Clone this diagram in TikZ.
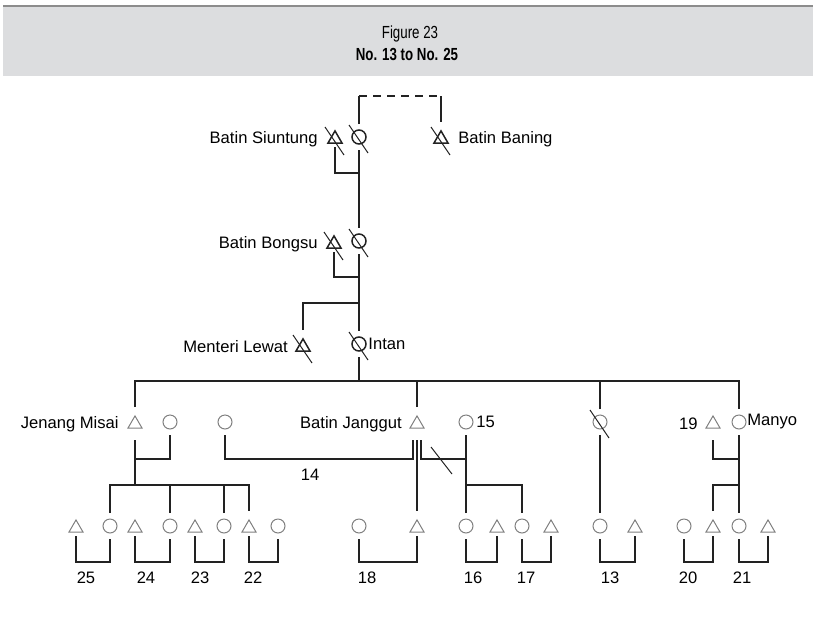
\documentclass[tikz,border=0pt]{standalone}
\usepackage{fontspec}
\setmainfont{Liberation Sans}
\usetikzlibrary{shapes.geometric,positioning}
\definecolor{Ink}{HTML}{222222}
\definecolor{Grey}{HTML}{808080}
\definecolor{Band}{HTML}{DCDDDF}
\definecolor{BandEdge}{HTML}{8C8C8C}
\tikzset{
  kinline/.style={Ink,line width=0.7pt},
  dashline/.style={kinline,dash pattern=on 4pt off 3pt},
  slashline/.style={Ink,line width=0.5pt},
  male/.style={regular polygon,regular polygon sides=3,minimum size=8.1pt,
    inner sep=0pt,outer sep=2.2pt,yshift=-1pt,draw=Grey,line width=0.5pt},
  female/.style={circle,minimum size=7pt,inner sep=0pt,outer sep=3pt,
    draw=Grey,line width=0.5pt},
  elder/.style={draw=Ink,line width=0.75pt},
  lbl/.style={inner sep=0pt,font=\fontsize{8.3}{10}\selectfont},
  heading/.style={inner sep=0pt,font=\fontsize{8.75}{10}\selectfont},
  lowgap/.style={shorten <=4pt},
}
\newcommand{\markdead}[1]{\draw[slashline] ([shift={(-10,-12)}]#1.center) -- ++(19,28);}

\begin{document}
\begin{tikzpicture}[x=0.5pt,y=-0.5pt]
\useasboundingbox (0,0) rectangle (813,616);
% Title band.
\fill[Band] (3,6) rectangle (813,76);
\draw[BandEdge,line width=0.6pt] (3,6) -- (813,6);
\node[heading] (fig) at (410,33.5) {\scalebox{0.76}[1]{Figure 23}};
\node[heading,font=\fontsize{8.75}{10}\selectfont\bfseries] (sub) at (407,54.5)
  {\scalebox{0.76}[1]{No. 13 to No. 25}};

% Two elder generations.
\node[male,elder] (siun) at (335,137) {};
\node[female,elder] (siunw) at (359,137) {};
\node[male,elder] (baning) at (441,137) {};
\node[lbl,left=3.6pt of siun] (lsiun) {Batin Siuntung};
\node[lbl,right=3.6pt of baning] (lbaning) {Batin Baning};
\node[male,elder] (bongsu) at (334,242) {};
\node[female,elder] (bongsuw) at (359,241) {};
\node[lbl,left=3.1pt of bongsu] (lbongsu) {Batin Bongsu};
\node[male,elder] (lewat) at (303,345) {};
\node[female,elder] (intan) at (359,344) {};
\node[lbl,left=2.6pt of lewat] (llewat) {Menteri Lewat};
\node[lbl,right=-2pt of intan] (lintan) {Intan};
\foreach \k in {siun,siunw,baning,bongsu,bongsuw,lewat,intan} {\markdead{\k}}

\coordinate (dl) at (siunw.north |- 0,96);
\coordinate (dr) at (baning.north |- 0,96);
\draw[kinline] (siunw.north) -- (dl);
\draw[dashline] (dl) -- (dr);
\draw[kinline] (dr) -- (baning.north);
\draw[kinline] (siun.south) |- (siunw.south |- 0,173);
\draw[kinline] (siunw.south) -- (bongsuw.north);
\draw[kinline] (bongsu.south) |- (bongsuw.south |- 0,277);
\draw[kinline] (bongsuw.south) -- (intan.north);
\draw[kinline] (lewat.north) |- (intan.north |- 0,303);
\draw[kinline] (intan.south) -- (intan.south |- 0,381);

% Children of Intan and their spouses.
\node[male] (jenang) at (135,422) {};
\node[female] (jenangw) at (170,422) {};
\node[female] (jwife1) at (225,422) {};
\node[male] (janggut) at (417,422) {};
\node[female] (jwife2) at (466,422) {};
\node[female] (dead13) at (600,422) {};
\node[male] (s19) at (713,422) {};
\node[female] (manyo) at (739,422) {};
\markdead{dead13}
\node[lbl,left=3.1pt of jenang] (ljenang) {Jenang Misai};
\node[lbl,left=2.6pt of janggut] (ljanggut) {Batin Janggut};
\node[lbl,right=-1.5pt of jwife2] (l15) {15};
\node[lbl,left=2.6pt of s19] (l19) {19};
\node[lbl,right=-2.5pt of manyo] (lmanyo) {Manyo};
\node[lbl] (n14) at (310,475) {14};

\draw[kinline] (jenang.north) -- (jenang.north |- 0,381) -- (manyo.north |- 0,381)
  -- (manyo.north);
\draw[kinline] (janggut.north) -- (janggut.north |- 0,381);
\draw[kinline] (dead13.north) -- (dead13.north |- 0,381);

% Bottom generation.
\foreach \n/\x/\s in {a1/76/male,a2/110/female,a3/135/male,a4/170/female,
    a5/195/male,a6/224/female,a7/249/male,a8/278/female,b1/359/female,
    b2/417/male,c1/466/female,c2/497/male,c3/522/female,c4/551/male,
    d1/600/female,d2/635/male,e1/684/female,e2/713/male,e3/739/female,
    e4/768/male}
  {\node[\s] (\n) at (\x,526) {};}

\coordinate (jgL) at ([xshift=-2pt]janggut.south);
\coordinate (jgR) at ([xshift=2pt]janggut.south);
\draw[kinline] (jenangw.south) |- (jenang.south |- 0,459);
\draw[kinline,lowgap] (jenang.south) -- (jenang.south |- 0,485);
\draw[kinline,lowgap] (jgL) -- (jgL |- 0,459) -| (jwife1.south);
\draw[kinline,lowgap] (janggut.south) -- (b2.north);
\draw[kinline,lowgap] (jgR) -- (jgR |- 0,459) -- (jwife2.south |- 0,459);
\draw[kinline] (jwife2.south) -- (jwife2.south |- 0,485);
\draw[slashline] (431,447) -- (452,474);
\draw[kinline] (dead13.south) -- (d1.north);
\draw[kinline,lowgap] (s19.south) |- (manyo.south |- 0,459);
\draw[kinline] (manyo.south) -- (e3.north);

\draw[kinline] (a2.north) |- (a7.north |- 0,485) -- (a7.north);
\foreach \k in {a4,a6} {\draw[kinline] (\k.north) -- (\k.north |- 0,485);}
\draw[kinline] (c1.north) |- (c3.north |- 0,485) -- (c3.north);
\draw[kinline] (e2.north) |- (e3.north |- 0,485);

\foreach \p/\q in {a1/a2,a3/a4,a5/a6,a7/a8,b1/b2,c1/c2,c3/c4,d1/d2,e1/e2,e3/e4}
  {\draw[kinline] (\p.south) |- (\q.south |- 0,562) -- (\q.south);}
\foreach \t/\x in {25/86,24/146,23/200,22/253,18/367,16/473,17/526,13/610,
    20/688,21/742}
  {\node[lbl] (n\t) at (\x,578) {\t};}
\end{tikzpicture}
\end{document}
